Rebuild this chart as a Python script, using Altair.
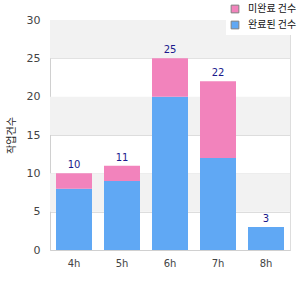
import altair as alt
import pandas as pd

hours = ["4h", "5h", "6h", "7h", "8h"]
done = [8, 9, 20, 12, 3]
pending = [2, 2, 5, 10, 0]
series_names = ["미완료 건수", "완료된 건수"]  # pink, blue
colors = ["#f283bc", "#60a8f4"]
band_lo = [25, 15, 5]
band_hi = [30, 20, 10]
ytick_values = [0, 5, 10, 15, 20, 25, 30]

rows = []
for h, d, p in zip(hours, done, pending):
    rows.append({"hour": h, "series": series_names[1], "value": d, "ord": 0})
    rows.append({"hour": h, "series": series_names[0], "value": p, "ord": 1})
df = pd.DataFrame(rows)
tot = pd.DataFrame({"hour": hours, "total": [d + p for d, p in zip(done, pending)]})
bands = pd.DataFrame({"lo": band_lo, "hi": band_hi})

yscale = alt.Scale(domain=[0, 30], nice=False)
xscale = alt.Scale(paddingInner=0.26, paddingOuter=0.13)
yaxis = alt.Axis(values=ytick_values, grid=True, gridColor="#dddddd",
                 ticks=False, domainColor="#d0d0d0", labelColor="#444444",
                 labelFont="DejaVu Sans", labelFontSize=11, labelPadding=10,
                 labelOverlap=False,
                 titleFont="Noto Sans CJK KR", titleFontSize=10,
                 titleFontWeight="normal", titleColor="#222222", titlePadding=10)
xaxis = alt.Axis(labelAngle=0, labelColor="#444444", labelFont="DejaVu Sans",
                 labelFontSize=10, ticks=False, domainColor="#d0d0d0",
                 labelPadding=8)
ytitle = "작업건수"

bg = alt.Chart(bands).mark_rect(color="#f2f2f2").encode(
    y=alt.Y("lo:Q", scale=yscale, axis=yaxis, title=ytitle),
    y2="hi:Q",
)

bars = alt.Chart(df).mark_bar(size=36).encode(
    x=alt.X("hour:N", sort=hours, title=None, scale=xscale, axis=xaxis),
    y=alt.Y("value:Q", stack="zero", scale=yscale, axis=yaxis, title=ytitle),
    color=alt.Color("series:N",
                    scale=alt.Scale(domain=series_names, range=colors),
                    legend=alt.Legend(title=None, orient="none", legendX=176, legendY=-20,
                                      fillColor="white", symbolType="square",
                                      symbolSize=60, symbolStrokeColor="#808080",
                                      symbolStrokeWidth=1, symbolOpacity=1,
                                      labelFont="Noto Sans CJK KR", labelFontSize=10,
                                      labelColor="#111111", padding=4, rowPadding=4,
                                      labelOffset=8)),
    order=alt.Order("ord:Q"),
)

labels = alt.Chart(tot).mark_text(dy=-8, color="#1a1a8c", font="DejaVu Sans", fontSize=10).encode(
    x=alt.X("hour:N", sort=hours, title=None, scale=xscale, axis=xaxis),
    y=alt.Y("total:Q", scale=yscale, axis=yaxis, title=ytitle),
    text="total:Q",
)

chart = alt.layer(bg, bars, labels).properties(
    width=240, height=230,
    autosize=alt.AutoSizeParams(type="none"),
    padding={"left": 50, "top": 20, "right": 10, "bottom": 50},
).configure_view(stroke="#dddddd")

chart.save("out.html", embed_options={"renderer": "svg", "actions": False})
